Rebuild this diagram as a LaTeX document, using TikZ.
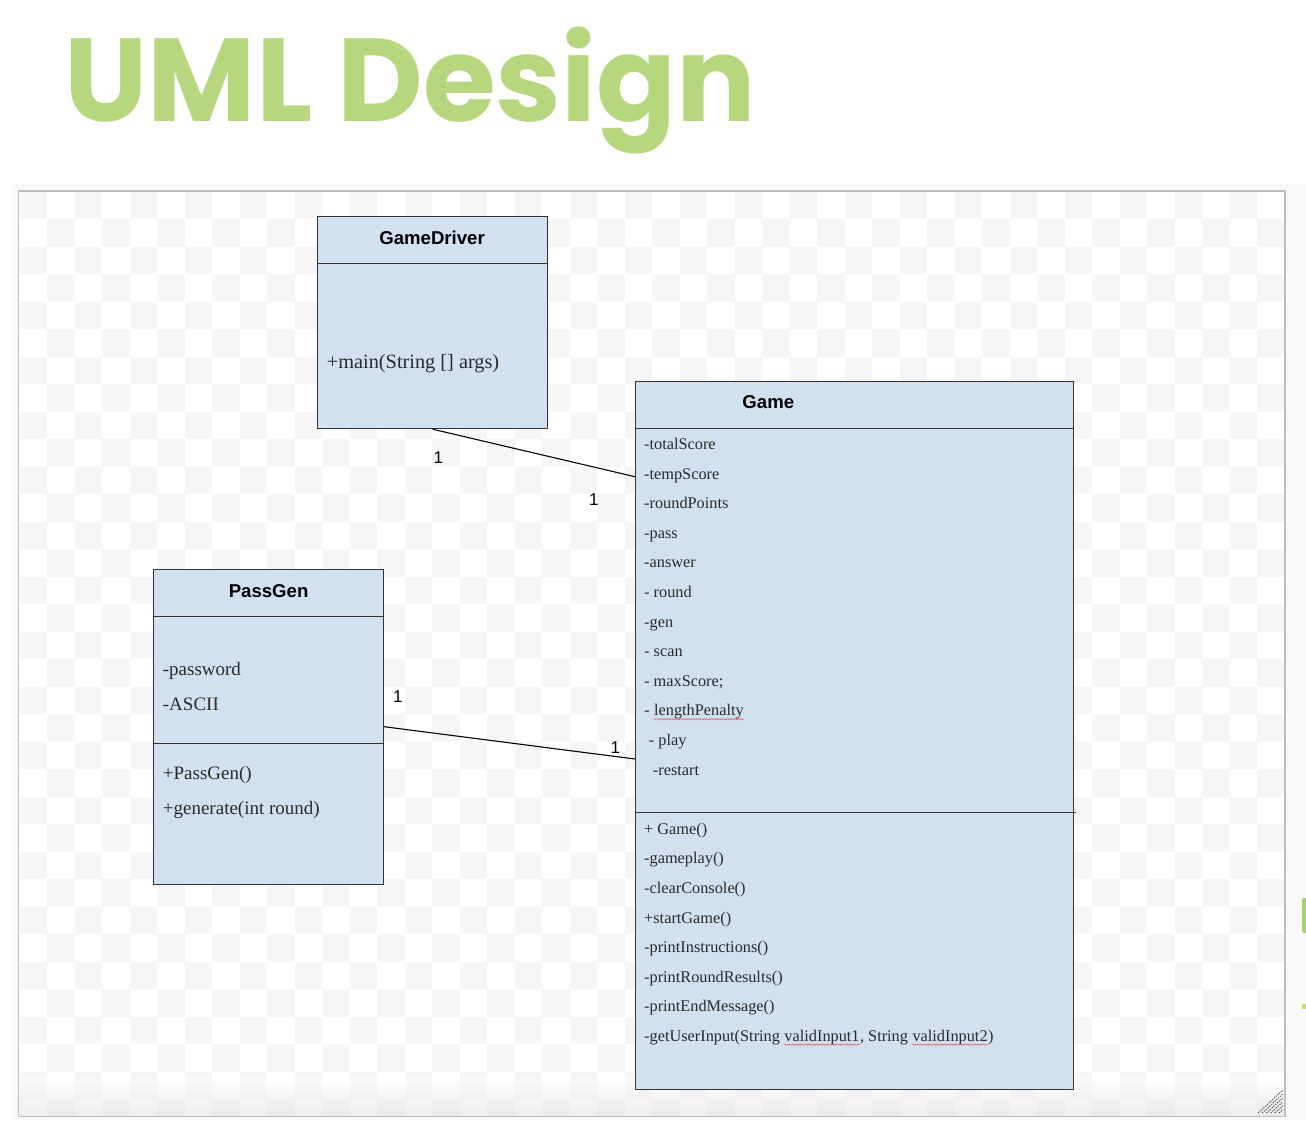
\documentclass[tikz,border=0pt]{standalone}
\usepackage{fontspec}
\setmainfont{Liberation Serif}
\setsansfont{Liberation Sans}
\newfontfamily\titlefont{Poppins}
\usetikzlibrary{calc,decorations.pathmorphing}
\definecolor{titlegreen}{HTML}{B6D77E}
\definecolor{boxfill}{HTML}{D1E1F0}
\definecolor{boxline}{HTML}{333333}
\definecolor{checker}{HTML}{F6F6F6}
\definecolor{outerbg}{HTML}{F8F9FA}
\definecolor{framegray}{HTML}{BDBDBD}
\definecolor{textgray}{HTML}{2A2A2A}
\definecolor{greenbit}{HTML}{A3D46F}
\definecolor{squig}{HTML}{E06060}
\tikzset{
  umlbox/.style={draw=boxline, fill=boxfill, line width=1.2pt, inner sep=0pt, rectangle, anchor=north west},
  sepline/.style={draw=boxline, line width=1.2pt},
  boxtitle/.style={font=\sffamily\bfseries\fontsize{18.6}{20}\selectfont, anchor=base, inner sep=0pt},
  member/.style={font=\fontsize{16.3}{18}\selectfont, text=textgray, anchor=base west, inner sep=0pt},
  bigmember/.style={font=\fontsize{20.3}{22}\selectfont, text=textgray, anchor=base west, inner sep=0pt},
  midmember/.style={font=\fontsize{19}{21}\selectfont, text=textgray, anchor=base west, inner sep=0pt},
  mult/.style={font=\sffamily\fontsize{17}{18}\selectfont, inner sep=0pt},
  conn/.style={draw=black, line width=1.1pt},
  spell/.style={draw=squig, line width=0.5pt, decorate, decoration={snake, amplitude=0.7pt, segment length=2.6pt}},
}
\begin{document}
\begin{tikzpicture}[x=1pt,y=-1pt]
\useasboundingbox (0,0) rectangle (1306,1144);
\fill[white] (0,0) rectangle (1306,1144);
% title
\node[anchor=base west, inner sep=0pt, text=titlegreen, font=\titlefont\bfseries\fontsize{118}{118}\selectfont] (title) at (64.5,121) {UML Design};
% canvas frame
\fill[outerbg] (12,184) rectangle (1306,1120);
\fill[white] (19,192) rectangle (1285,1116);
\begin{scope}
\clip (19,192) rectangle (1285,1116);
\foreach \j in {0,...,33}{
  \pgfmathsetmacro{\off}{mod(\j,2)}
  \foreach \i in {0,2,...,46}{
    \fill[checker] ({19.5+27.5*(\i+\off)},{191.5+27.5*\j}) rectangle ++(27.5,27.5);
  }
}
\shade[top color=white, bottom color=black!14, opacity=0.45] (19,1078) rectangle (1285,1116);
\end{scope}
\draw[framegray, line width=1.5pt] (18.5,191) rectangle (1285,1116.5);
% resize grip
\foreach \k in {0,...,5}{
  \draw[black!65, line width=0.9pt, dash pattern=on 1.4pt off 1pt] ({1258+4.2*\k},1113) -- (1283,{1090+3.9*\k});
}
% clipped slide bits on the right
\fill[greenbit, rounded corners=2pt] (1302,898) rectangle (1310,933);
\fill[titlegreen!80!yellow] (1302,1004) rectangle (1306,1009);

% GameDriver
\node[umlbox, minimum width=230pt, minimum height=212pt] (gd) at (317,216) {};
\draw[sepline] ($(gd.north west)+(0,47.5)$) -- ($(gd.north east)+(0,47.5)$);
\node[boxtitle] (gdt) at ($(gd.north)+(-0.5,28)$) {GameDriver};
\node[bigmember] (gdm) at ($(gd.north west)+(9.7,152.3)$) {+main(String [] args)};

% Game
\node[umlbox, minimum width=438pt, minimum height=708pt] (game) at (635,381) {};
\draw[sepline] ($(game.north west)+(0,47.3)$) -- ($(game.north east)+(0,47.3)$);
\draw[sepline] ($(game.north west)+(0,431.7)$) -- ($(game.north east)+(2,431.7)$);
\node[boxtitle] (gamet) at ($(game.north west)+(133.3,27.3)$) {Game};
\foreach \t/\dx [count=\i from 0] in {-totalScore/9, -tempScore/9, -roundPoints/9, -pass/9, -answer/9, - round/9, -gen/9, - scan/9, - maxScore;/9}{
  \node[member] (ga\i) at ($(game.north west)+(\dx,{68.5+29.6*\i})$) {\t};
}
\node[member] (ga9) at ($(game.north west)+(9,{68.5+29.6*9})$) {-\ \null};
\node[member, anchor=base west] (lp) at (ga9.base east) {lengthPenalty};
\draw[spell] ($(lp.base west)+(0,3.3)$) -- ($(lp.base east)+(0,3.3)$);
\node[member] (ga10) at ($(game.north west)+(13.7,{68.5+29.6*10})$) {- play};
\node[member] (ga11) at ($(game.north west)+(17.7,{68.5+29.6*11})$) {-restart};
\foreach \t [count=\i from 0] in {+ Game(), -gameplay(), -clearConsole(), +startGame(), -printInstructions(), -printRoundResults(), -printEndMessage()}{
  \node[member] (gm\i) at ($(game.north west)+(9,{453.3+29.57*\i})$) {\t};
}
\node[member] (gm7) at ($(game.north west)+(9,{453.3+29.57*7})$) {-getUserInput(String\ \null};
\node[member] (vi1) at (gm7.base east) {validInput1};
\node[member] (gm7b) at (vi1.base east) {, String\ \null};
\node[member] (vi2) at (gm7b.base east) {validInput2};
\node[member] (gm7c) at (vi2.base east) {)};
\draw[spell] ($(vi1.base west)+(0,3.3)$) -- ($(vi1.base east)+(0,3.3)$);
\draw[spell] ($(vi2.base west)+(0,3.3)$) -- ($(vi2.base east)+(0,3.3)$);

% PassGen
\node[umlbox, minimum width=230pt, minimum height=315pt] (pg) at (153,569) {};
\draw[sepline] ($(pg.north west)+(0,47.7)$) -- ($(pg.north east)+(0,47.7)$);
\draw[sepline] ($(pg.north west)+(0,174.3)$) -- ($(pg.north east)+(0,174.3)$);
\node[boxtitle] (pgt) at ($(pg.north)+(0,28.3)$) {PassGen};
\node[midmember] (pg0) at ($(pg.north west)+(9.7,106)$) {-password};
\node[midmember] (pg1) at ($(pg.north west)+(9.7,141)$) {-ASCII};
\node[midmember] (pg2) at ($(pg.north west)+(9.7,210)$) {+PassGen()};
\node[midmember] (pg3) at ($(pg.north west)+(9.7,245)$) {+generate(int round)};

% connectors
\coordinate (gdEnd) at ($(game.north west)+(0,95.7)$);
\coordinate (pgStart) at ($(pg.north east)+(0,157.7)$);
\coordinate (pgEnd) at ($(game.north west)+(0,378)$);
\draw[conn] (gd.south) -- (gdEnd);
\draw[conn] (pgStart) -- (pgEnd);
\node[mult] (m1) at (438.3,457.3) {1};
\node[mult] (m2) at (593.8,499.3) {1};
\node[mult] (m3) at (397.8,696.7) {1};
\node[mult] (m4) at (615.3,748) {1};
\end{tikzpicture}
\end{document}
